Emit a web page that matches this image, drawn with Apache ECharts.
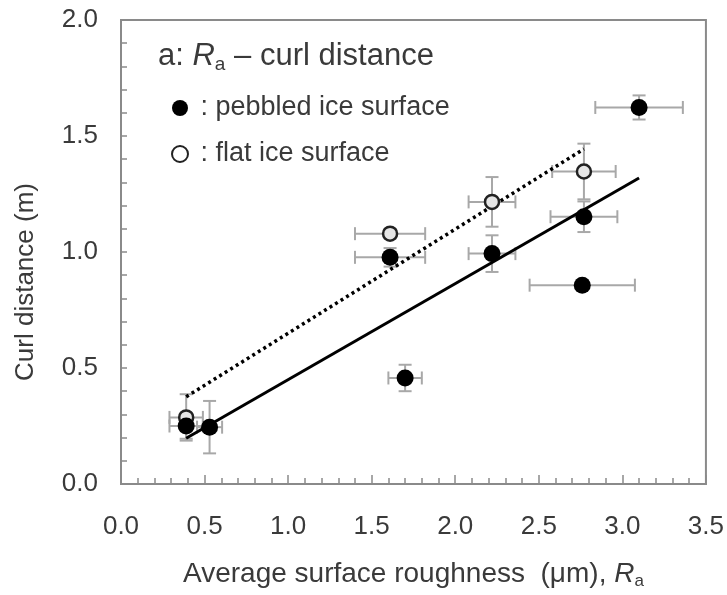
<!DOCTYPE html>
<html>
<head>
<meta charset="utf-8">
<script src="https://cdn.jsdelivr.net/npm/echarts@6/dist/echarts.min.js"></script>
<style>
html,body{margin:0;padding:0;background:#fff;}
#chart{width:727px;height:595px;}
</style>
</head>
<body>
<div id="chart"></div>
<script>
// Pebbled ice surface (filled circles)
var pebbledX    = [0.39, 0.53, 1.61, 1.70, 2.22, 2.77, 2.76, 3.10];
var pebbledY    = [0.250, 0.245, 0.977, 0.457, 0.993, 1.152, 0.857, 1.623];
var pebbledXErr = [0.10, 0.075, 0.21, 0.10, 0.14, 0.20, 0.315, 0.262];
var pebbledYErr = [0.055, 0.113, 0.04, 0.057, 0.079, 0.066, 0.015, 0.052];

// Flat ice surface (open circles)
var flatX    = [0.39, 1.61, 2.22, 2.77];
var flatY    = [0.287, 1.079, 1.216, 1.347];
var flatXErr = [0.10, 0.21, 0.14, 0.19];
var flatYErr = [0.10, 0.02, 0.107, 0.12];

// Regression lines (end points)
var fitPebbledX = [0.39, 3.10];
var fitPebbledY = [0.197, 1.319];
var fitFlatX    = [0.39, 2.77];
var fitFlatY    = [0.376, 1.444];

// Axis ticks
var xTicks = [0.0, 0.5, 1.0, 1.5, 2.0, 2.5, 3.0, 3.5];
var yTicks = [0.0, 0.5, 1.0, 1.5, 2.0];

function zip(a, b) { return a.map(function (v, i) { return [v, b[i]]; }); }
function errData(x, y, xe, ye) { return x.map(function (v, i) { return [v, y[i], xe[i], ye[i]]; }); }

var FONT = '"Liberation Sans", Arial, sans-serif';
var TXT = '#3a3a3a';
var ERR = '#a8a8a8';

function renderErr(params, api) {
  var x = api.value(0), y = api.value(1), xe = api.value(2), ye = api.value(3);
  var l = api.coord([x - xe, y]), r = api.coord([x + xe, y]);
  var t = api.coord([x, y + ye]), b = api.coord([x, y - ye]);
  var c = 6.5;
  var st = { stroke: ERR, lineWidth: 2 };
  return {
    type: 'group',
    children: [
      { type: 'line', shape: { x1: l[0], y1: l[1], x2: r[0], y2: r[1] }, style: st },
      { type: 'line', shape: { x1: l[0], y1: l[1] - c, x2: l[0], y2: l[1] + c }, style: st },
      { type: 'line', shape: { x1: r[0], y1: r[1] - c, x2: r[0], y2: r[1] + c }, style: st },
      { type: 'line', shape: { x1: t[0], y1: t[1], x2: b[0], y2: b[1] }, style: st },
      { type: 'line', shape: { x1: t[0] - c, y1: t[1], x2: t[0] + c, y2: t[1] }, style: st },
      { type: 'line', shape: { x1: b[0] - c, y1: b[1], x2: b[0] + c, y2: b[1] }, style: st }
    ]
  };
}

var chart = echarts.init(document.getElementById('chart'));
chart.setOption({
  animation: false,
  backgroundColor: '#fff',
  textStyle: { fontFamily: FONT },
  title: {
    text: '{n|a: }{i|R}{s|a}{n| – curl distance}',
    left: 153, top: 33,
    textStyle: {
      fontWeight: 'normal',
      rich: {
        n: { fontFamily: FONT, fontSize: 31, fontWeight: 'normal', color: TXT, lineHeight: 36 },
        i: { fontFamily: FONT, fontSize: 31, fontWeight: 'normal', fontStyle: 'italic', color: TXT, lineHeight: 36 },
        s: { fontFamily: FONT, fontSize: 19, fontWeight: 'normal', color: TXT, lineHeight: 19, verticalAlign: 'bottom' }
      }
    }
  },
  legend: {
    orient: 'vertical',
    left: 166, top: 88,
    itemWidth: 16, itemHeight: 16,
    itemGap: 16,
    formatter: function (name) { return ' : ' + name; },
    textStyle: { fontFamily: FONT, fontSize: 27, color: TXT, lineHeight: 30 },
    data: [
      { name: 'pebbled ice surface', icon: 'circle', itemStyle: { color: '#000', borderWidth: 0 } },
      { name: 'flat ice surface', icon: 'circle', itemStyle: { color: '#fff', borderColor: '#222', borderWidth: 2 } }
    ]
  },
  grid: {
    left: 121, right: 20, top: 20, bottom: 109,
    show: true, borderColor: '#8a8a8a', borderWidth: 2, backgroundColor: 'transparent'
  },
  xAxis: {
    type: 'value', min: 0, max: 3.5, interval: 0.5,
    name: '{n|Average surface roughness  (μm), }{i|R}{s|a}',
    nameLocation: 'middle', nameGap: 74,
    nameTextStyle: {
      rich: {
        n: { fontFamily: FONT, fontSize: 28, color: TXT, lineHeight: 32 },
        i: { fontFamily: FONT, fontSize: 28, fontStyle: 'italic', color: TXT, lineHeight: 32 },
        s: { fontFamily: FONT, fontSize: 17, color: TXT, lineHeight: 17, verticalAlign: 'bottom' }
      }
    },
    axisLine: { lineStyle: { color: '#8a8a8a', width: 2 } },
    axisTick: { inside: true, length: 9, lineStyle: { color: '#8a8a8a', width: 1.5 } },
    minorTick: { show: true, splitNumber: 5, length: 6, lineStyle: { color: '#8a8a8a', width: 1.5 } },
    splitLine: { show: false },
    axisLabel: {
      margin: 30, fontFamily: FONT, fontSize: 26, color: TXT,
      formatter: function (v) { return xTicks.indexOf(+v.toFixed(1)) >= 0 ? v.toFixed(1) : ''; }
    }
  },
  yAxis: {
    type: 'value', min: 0, max: 2.0, interval: 0.5,
    name: 'Curl distance (m)',
    nameLocation: 'middle', nameGap: 82,
    nameTextStyle: { fontFamily: FONT, fontSize: 26, color: TXT, padding: [0, 60, 0, 0] },
    axisLine: { show: true, lineStyle: { color: '#8a8a8a', width: 2 } },
    axisTick: { show: true, inside: true, length: 6, lineStyle: { color: '#8a8a8a', width: 1.5 } },
    minorTick: { show: true, splitNumber: 5, length: 6, lineStyle: { color: '#8a8a8a', width: 1.5 } },
    splitLine: { show: false },
    axisLabel: {
      margin: 23, fontFamily: FONT, fontSize: 26, color: TXT,
      formatter: function (v) { return yTicks.indexOf(+v.toFixed(1)) >= 0 ? v.toFixed(1) : ''; }
    }
  },
  series: [
    {
      type: 'custom', name: 'errP', renderItem: renderErr, z: 1, silent: true,
      encode: { x: 0, y: 1 },
      data: errData(pebbledX, pebbledY, pebbledXErr, pebbledYErr)
    },
    {
      type: 'custom', name: 'errF', renderItem: renderErr, z: 1, silent: true,
      encode: { x: 0, y: 1 },
      data: errData(flatX, flatY, flatXErr, flatYErr)
    },
    {
      type: 'line', name: 'fitP', z: 2, symbol: 'none', silent: true,
      lineStyle: { color: '#000', width: 3 },
      data: zip(fitPebbledX, fitPebbledY)
    },
    {
      type: 'line', name: 'fitF', z: 2, symbol: 'none', silent: true,
      lineStyle: { color: '#000', width: 3.5, type: [3, 3.5] },
      data: zip(fitFlatX, fitFlatY)
    },
    {
      type: 'scatter', name: 'flat ice surface', z: 3, symbol: 'circle', symbolSize: 14,
      itemStyle: { color: '#e6e6e6', borderColor: '#222', borderWidth: 2.5, opacity: 1 },
      data: zip(flatX, flatY)
    },
    {
      type: 'scatter', name: 'pebbled ice surface', z: 4, symbol: 'circle', symbolSize: 17,
      itemStyle: { color: '#000', opacity: 1 },
      data: zip(pebbledX, pebbledY)
    }
  ]
});
</script>
</body>
</html>
